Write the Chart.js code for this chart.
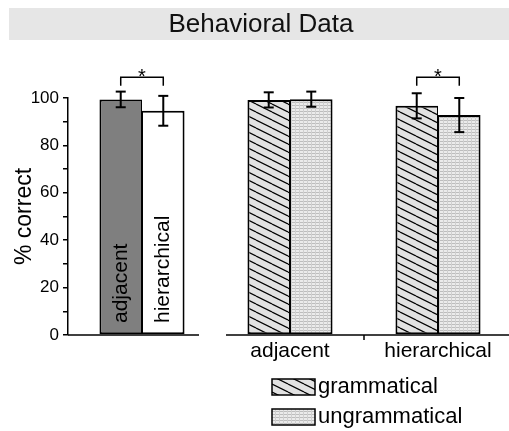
<!DOCTYPE html>
<html lang="en">
<head>
  <meta charset="UTF-8">
  <title>Behavioral Data</title>
  <script src="https://cdn.jsdelivr.net/npm/chart.js"></script>
  <style>
    body {
      margin: 0;
      background: #fff;
      overflow: hidden;
    }
  </style>
</head>
<body>
  <canvas id="chart" width="514" height="431"></canvas>

  <script>
    // group 0 = left panel (adjacent / hierarchical), groups 1-2 = right panel
    const groups = ['', 'adjacent', 'hierarchical'];
    const leftLabels = ['adjacent', 'hierarchical'];
    const legendLabels = ['grammatical', 'ungrammatical'];
    const firstValues = [99.4, 99.2, 96.7];
    const firstErrors = [3.3, 3.2, 5.3];
    const secondValues = [94.6, 99.5, 92.8];
    const secondErrors = [6.3, 3.2, 7.2];
    const starGroups = [0, 2];

    const FONT = '"Liberation Sans", Arial, sans-serif';
    Chart.defaults.font.family = FONT;
    Chart.defaults.color = '#000';

    function hatchPattern() {
      const c = document.createElement('canvas');
      c.width = 16; c.height = 8;
      const g = c.getContext('2d');
      g.fillStyle = '#e2e2e2';
      g.fillRect(0, 0, 16, 8);
      g.strokeStyle = '#000';
      g.lineWidth = 1.2;
      for (let k = -1; k <= 1; k++) {
        g.beginPath();
        g.moveTo(0, k * 8);
        g.lineTo(16, k * 8 + 8);
        g.stroke();
      }
      return g.createPattern(c, 'repeat');
    }

    function dotPattern() {
      const c = document.createElement('canvas');
      c.width = 4; c.height = 3;
      const g = c.getContext('2d');
      g.fillStyle = '#ebebeb';
      g.fillRect(0, 0, 4, 3);
      g.fillStyle = '#bdbdbd';
      g.fillRect(0, 0, 3, 1);
      g.fillStyle = '#d0d0d0';
      g.fillRect(3, 0, 1, 3);
      return g.createPattern(c, 'repeat');
    }

    const hatch = hatchPattern();
    const dots = dotPattern();

    const line = (ctx, x1, y1, x2, y2) => {
      ctx.beginPath();
      ctx.moveTo(x1, y1);
      ctx.lineTo(x2, y2);
      ctx.stroke();
    };

    const decor = {
      id: 'decor',
      beforeDraw(chart) {
        const ctx = chart.ctx;
        ctx.save();
        ctx.fillStyle = '#e6e6e6';
        ctx.fillRect(9, 8, 505, 32);
        ctx.fillStyle = '#111';
        ctx.font = '26px ' + FONT;
        ctx.textAlign = 'center';
        ctx.textBaseline = 'middle';
        ctx.fillText('Behavioral Data', 261, 25);
        ctx.restore();
      },
      afterDatasetsDraw(chart) {
        const ctx = chart.ctx;
        const xs = chart.scales.x, ys = chart.scales.y;
        const y0 = ys.getPixelForValue(0);
        ctx.save();
        ctx.strokeStyle = '#000';
        ctx.fillStyle = '#000';

        // error bars
        ctx.lineWidth = 2;
        [[firstValues, firstErrors], [secondValues, secondErrors]].forEach(([vals, errs], di) => {
          const meta = chart.getDatasetMeta(di);
          vals.forEach((v, i) => {
            const x = meta.data[i].x;
            const hi = ys.getPixelForValue(v + errs[i]);
            const lo = ys.getPixelForValue(v - errs[i]);
            line(ctx, x, hi, x, lo);
            line(ctx, x - 5, hi, x + 5, hi);
            line(ctx, x - 5, lo, x + 5, lo);
          });
        });

        // significance brackets
        ctx.lineWidth = 1.5;
        starGroups.forEach(g => {
          const x1 = chart.getDatasetMeta(0).data[g].x;
          const x2 = chart.getDatasetMeta(1).data[g].x;
          const top = ys.getPixelForValue(108.8);
          const bot = ys.getPixelForValue(105.2);
          ctx.beginPath();
          ctx.moveTo(x1, bot);
          ctx.lineTo(x1, top);
          ctx.lineTo(x2, top);
          ctx.lineTo(x2, bot);
          ctx.stroke();
          ctx.font = '20px ' + FONT;
          ctx.textAlign = 'center';
          ctx.textBaseline = 'alphabetic';
          ctx.fillText('*', (x1 + x2) / 2, top + 6);
        });

        // labels inside the left bars
        ctx.font = '21px ' + FONT;
        ctx.textAlign = 'left';
        ctx.textBaseline = 'middle';
        leftLabels.forEach((t, di) => {
          const x = chart.getDatasetMeta(di).data[0].x;
          ctx.save();
          ctx.translate(x, y0 - 12);
          ctx.rotate(-Math.PI / 2);
          ctx.fillText(t, 0, 0);
          ctx.restore();
        });

        // broken x axis
        ctx.lineWidth = 1.5;
        const gap = xs.getPixelForValue(0.5);
        line(ctx, chart.chartArea.left, y0, gap - 17, y0);
        line(ctx, gap + 10, y0, chart.chartArea.right, y0);
        const mid = xs.getPixelForValue(1.5);
        line(ctx, mid, y0, mid, y0 + 5);

        // legend
        const lx = xs.getPixelForValue(1) - 18;
        const rows = [387, 417];
        ctx.font = '22px ' + FONT;
        ctx.textBaseline = 'middle';
        legendLabels.forEach((t, k) => {
          ctx.fillStyle = k === 0 ? hatch : dots;
          ctx.fillRect(lx, rows[k] - 8, 43, 16);
          ctx.strokeRect(lx, rows[k] - 8, 43, 16);
          ctx.fillStyle = '#000';
          ctx.fillText(t, lx + 46, rows[k]);
        });
        ctx.restore();
      }
    };

    new Chart(document.getElementById('chart'), {
      type: 'bar',
      data: {
        labels: groups,
        datasets: [
          {
            label: legendLabels[0],
            data: firstValues,
            backgroundColor: firstValues.map((v, i) => i === 0 ? '#7f7f7f' : hatch),
            borderColor: '#000',
            borderWidth: { top: 2, left: 2, right: 1, bottom: 2 },
            borderSkipped: false,
            categoryPercentage: 0.575,
            barPercentage: 1
          },
          {
            label: legendLabels[1],
            data: secondValues,
            backgroundColor: secondValues.map((v, i) => i === 0 ? '#fff' : dots),
            borderColor: '#000',
            borderWidth: { top: 2, left: 1, right: 2, bottom: 2 },
            borderSkipped: false,
            categoryPercentage: 0.575,
            barPercentage: 1
          }
        ]
      },
      options: {
        responsive: false,
        animation: false,
        layout: { padding: { top: 98, right: 2, left: 0, bottom: 0 } },
        plugins: {
          legend: { display: false },
          tooltip: { enabled: false },
          title: { display: false }
        },
        scales: {
          x: {
            grid: { display: false, drawTicks: false },
            border: { display: false },
            ticks: {
              font: { size: 21 },
              color: '#000',
              padding: 4,
              autoSkip: false,
              maxRotation: 0
            },
            afterFit: s => { s.height = 96; }
          },
          y: {
            min: 0,
            max: 100,
            ticks: {
              stepSize: 10,
              callback: v => v % 20 === 0 ? v : '',
              font: { size: 17 },
              color: '#000',
              padding: 4
            },
            grid: { drawOnChartArea: false, tickLength: 5, color: '#000', lineWidth: 1.5 },
            border: { color: '#000', width: 1.5 },
            title: {
              display: true,
              text: '% correct',
              font: { size: 23 },
              color: '#000',
              padding: { top: 11 }
            },
            afterFit: s => { s.width = 68; }
          }
        }
      },
      plugins: [decor]
    });
  </script>
</body>
</html>
